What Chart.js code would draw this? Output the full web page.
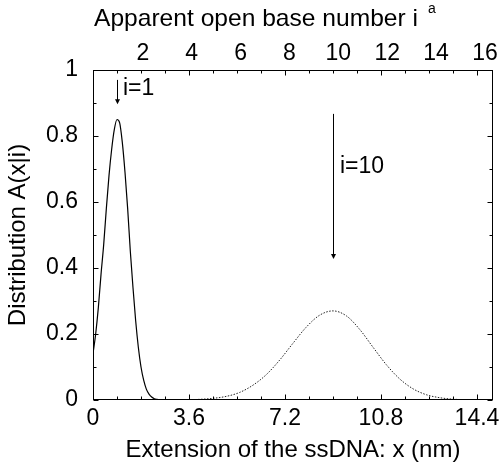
<!DOCTYPE html>
<html>
<head>
<meta charset="utf-8">
<script src="https://cdn.jsdelivr.net/npm/chart.js@4.4.1/dist/chart.umd.min.js"></script>
<style>
html,body{margin:0;padding:0;background:#fff;}
#wrap{width:501px;height:467px;position:relative;}
</style>
</head>
<body>
<div id="wrap"><canvas id="c"></canvas></div>
<script>
// ---- data ----
const extI1  = [0,0.1,0.2,0.3,0.4,0.5,0.6,0.7,0.8,0.9,1.0,1.1,1.2,1.3,1.4,1.5,1.6,1.7,1.8,1.9,2.0,2.1,2.2,2.3,2.4,2.5,2.6,3,4,6,8,10,12,15];
const distI1 = [0.14,0.20,0.28,0.38,0.47,0.58,0.68,0.76,0.82,0.85,0.84,0.78,0.69,0.58,0.45,0.34,0.24,0.16,0.10,0.06,0.033,0.018,0.009,0.004,0.002,0.001,0.0005,0,0,0,0,0,0,0];

const extI10  = [0,0.5,1,1.5,2,2.5,3,3.5,4,4.5,5,5.5,6,6.5,7,7.5,8,8.5,9,9.5,10,10.5,11,11.5,12,12.5,13,13.5,14,14.5,15];
const distI10 = [0,0,0,0,0,0,0.0002,0.0006,0.002,0.005,0.011,0.023,0.045,0.077,0.121,0.172,0.221,0.257,0.27,0.255,0.214,0.160,0.107,0.064,0.034,0.016,0.007,0.0025,0.0008,0.0002,0.0001];

const bottomTickLabels = [0, 3.6, 7.2, 10.8, 14.4];
const bottomMinorTicks = [0.9, 1.8, 2.7, 4.5, 5.4, 6.3, 8.1, 9, 9.9, 11.7, 12.6, 13.5];
const yTickLabels = [0, 0.2, 0.4, 0.6, 0.8, 1];
const yMinorTicks = [0.1, 0.3, 0.5, 0.7, 0.9];
const topTickLabels = [2, 4, 6, 8, 10, 12, 14, 16];
const topMajorTicks = [4, 8, 12, 16];
const topMinorTicks = [1, 2, 3, 5, 6, 7, 9, 10, 11, 13, 14, 15];
const NM_PER_BASE = 0.9;

const annotationTexts = ['i=1', 'i=10'];
const arrowX    = [0.9, 9.0];
const arrowFrom = [0.97, 0.867];
const arrowTo   = [0.896, 0.427];
const labelX    = [1.125, 9.26];
const labelY    = [0.924, 0.687];

// ---- chart ----
const FAMILY = "'Liberation Sans', Arial, Helvetica, sans-serif";
const tickFont = {family: FAMILY, size: 23};
const titleFont = {family: FAMILY, size: 24};

const decor = {
  id: 'decor',
  afterDraw(chart) {
    const {ctx, chartArea: a, scales} = chart;
    const xs = scales.x, ys = scales.y;
    const L = Math.round(a.left) + 0.5, R = Math.round(a.right) - 0.5;
    const T = Math.round(a.top) + 0.5, B = Math.round(a.bottom) - 0.5;
    ctx.save();
    ctx.strokeStyle = '#000';
    ctx.fillStyle = '#000';
    ctx.lineWidth = 1;
    // frame
    ctx.strokeRect(L, T, R - L, B - T);
    const MAJ = 5, MIN = 3;
    ctx.beginPath();
    const bx = (v, len) => { const p = Math.round(xs.getPixelForValue(v)) + 0.5; ctx.moveTo(p, B); ctx.lineTo(p, B - len); };
    bottomTickLabels.forEach(v => bx(v, MAJ));
    bottomMinorTicks.forEach(v => bx(v, MIN));
    const tx = (i, len) => { const p = Math.round(xs.getPixelForValue(i * NM_PER_BASE)) + 0.5; ctx.moveTo(p, T); ctx.lineTo(p, T + len); };
    topMajorTicks.forEach(i => tx(i, MAJ));
    topMinorTicks.forEach(i => tx(i, MIN));
    const yt = (v, len) => { const p = Math.round(ys.getPixelForValue(v)) + 0.5; ctx.moveTo(L, p); ctx.lineTo(L + len, p); ctx.moveTo(R, p); ctx.lineTo(R - len, p); };
    yTickLabels.forEach(v => yt(v, MAJ));
    yMinorTicks.forEach(v => yt(v, MIN));
    ctx.stroke();

    // arrows + labels
    ctx.font = "23px " + FAMILY;
    ctx.textBaseline = 'alphabetic';
    ctx.textAlign = 'left';
    annotationTexts.forEach((txt, k) => {
      const px = Math.round(xs.getPixelForValue(arrowX[k])) + 0.5;
      const y0 = ys.getPixelForValue(arrowFrom[k]);
      const y1 = ys.getPixelForValue(arrowTo[k]);
      ctx.beginPath();
      ctx.moveTo(px, y0);
      ctx.lineTo(px, y1 - 3);
      ctx.stroke();
      ctx.beginPath();
      ctx.moveTo(px, y1);
      ctx.lineTo(px - 2.5, y1 - 5);
      ctx.lineTo(px + 2.5, y1 - 5);
      ctx.closePath();
      ctx.fill();
      ctx.fillText(txt, xs.getPixelForValue(labelX[k]), ys.getPixelForValue(labelY[k]));
    });

    // top axis title with superscript (stretched to the reference width)
    const topTitle = 'Apparent open base number i';
    ctx.font = "24px " + FAMILY;
    const w = ctx.measureText(topTitle).width;
    const targetW = 324;
    const x0 = a.left + 1;
    ctx.save();
    ctx.translate(x0, 25.5);
    ctx.scale(targetW / w, 1);
    ctx.fillText(topTitle, 0, 0);
    ctx.restore();
    ctx.font = "14px " + FAMILY;
    ctx.fillText('a', x0 + targetW + 10, 13);
    ctx.restore();
  }
};

new Chart(document.getElementById('c'), {
  type: 'scatter',
  data: {
    datasets: [
      {
        label: 'i=1',
        data: extI1.map((v, k) => ({x: v, y: distI1[k]})),
        showLine: true,
        borderColor: '#000',
        borderWidth: 1.2,
        pointRadius: 0,
        cubicInterpolationMode: 'monotone',
        fill: false
      },
      {
        label: 'i=10',
        data: extI10.map((v, k) => ({x: v, y: distI10[k]})),
        showLine: true,
        borderColor: '#222',
        borderWidth: 1,
        borderDash: [1.5, 1.5],
        pointRadius: 0,
        cubicInterpolationMode: 'monotone',
        fill: false
      }
    ]
  },
  options: {
    responsive: true,
    maintainAspectRatio: false,
    animation: false,
    layout: {padding: {left: 0, right: 8, top: 0, bottom: 0}},
    plugins: {legend: {display: false}, tooltip: {enabled: false}},
    scales: {
      x: {
        type: 'linear', position: 'bottom', min: 0, max: 15,
        afterBuildTicks: s => { s.ticks = bottomTickLabels.map(v => ({value: v})); },
        ticks: {font: tickFont, color: '#000', padding: 5, maxRotation: 0, autoSkip: false, callback: v => String(v)},
        grid: {display: false, drawTicks: false},
        border: {display: false},
        title: {display: true, text: 'Extension of the ssDNA: x (nm)', font: titleFont, color: '#000', padding: {top: 0, bottom: 2}},
        afterFit: s => { s.height = 67; s.paddingLeft = 0; s.paddingRight = 0; }
      },
      x2: {
        type: 'linear', position: 'top', min: -0.04, max: 16.33,
        afterBuildTicks: s => { s.ticks = topTickLabels.map(v => ({value: v})); },
        ticks: {font: tickFont, color: '#000', padding: 2.5, maxRotation: 0, autoSkip: false, callback: v => String(v)},
        grid: {display: false, drawTicks: false},
        border: {display: false},
        afterFit: s => { s.height = 70; s.paddingLeft = 0; s.paddingRight = 0; }
      },
      y: {
        type: 'linear', position: 'left', min: 0, max: 1,
        afterBuildTicks: s => { s.ticks = yTickLabels.map(v => ({value: v})); },
        ticks: {font: tickFont, color: '#000', padding: 15, autoSkip: false, callback: v => String(v)},
        grid: {display: false, drawTicks: false},
        border: {display: false},
        title: {display: true, text: 'Distribution A(x|i)', font: titleFont, color: '#000', padding: {top: 4, bottom: 0}},
        afterFit: s => { s.width = 93; s.paddingTop = 0; s.paddingBottom = 0; }
      }
    }
  },
  plugins: [decor]
});
</script>
</body>
</html>
